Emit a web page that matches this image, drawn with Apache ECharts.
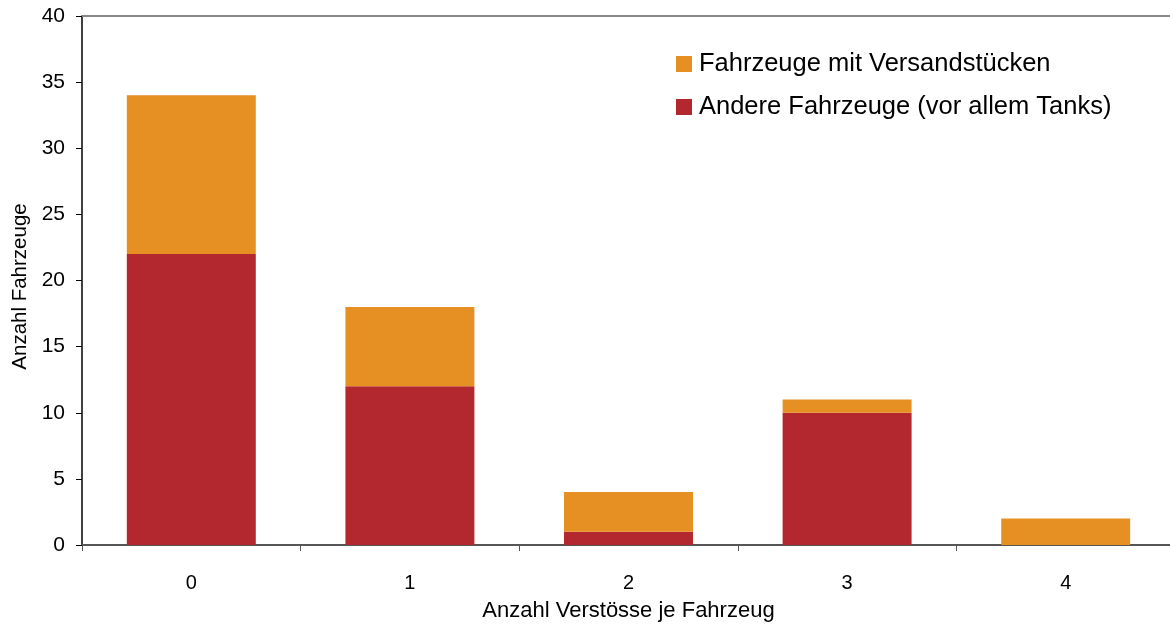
<!DOCTYPE html>
<html>
<head>
<meta charset="utf-8">
<script src="https://cdn.jsdelivr.net/npm/echarts@6/dist/echarts.min.js"></script>
<style>
  html, body { margin: 0; padding: 0; background: #fff; }
  #chart { width: 1170px; height: 625px; }
</style>
</head>
<body>
<div id="chart"></div>
<script>
const categories = ['0', '1', '2', '3', '4']
const andereFahrzeuge = [22, 12, 1, 10, 0]
const versandstuecke = [12, 6, 3, 1, 2]
const yTicks = { min: 0, max: 40, interval: 5 }

const font = '"Liberation Sans", Arial, sans-serif'
const myChart = echarts.init(document.getElementById('chart'))
myChart.setOption({
  animation: false,
  color: ['#b3282f', '#e68f23'],
  textStyle: { fontFamily: font },
  grid: { left: 82, right: -5, top: 16, bottom: 80, containLabel: false, outerBoundsMode: 'none' },
  legend: {
    orient: 'vertical',
    left: 671,
    top: 46,
    itemWidth: 16,
    itemHeight: 16,
    itemGap: 17,
    icon: 'rect',
    textStyle: { fontSize: 25.5, color: '#000', fontFamily: font, padding: [0, 0, 0, 2] },
    data: ['Fahrzeuge mit Versandstücken', 'Andere Fahrzeuge (vor allem Tanks)']
  },
  xAxis: [
    {
      type: 'category',
      data: categories,
      name: 'Anzahl Verstösse je Fahrzeug',
      nameLocation: 'middle',
      nameGap: 55,
      nameTextStyle: { fontSize: 22, color: '#000' },
      axisLine: { lineStyle: { color: '#555', width: 2 } },
      axisTick: { show: true, length: 6, lineStyle: { color: '#555' } },
      axisLabel: { fontSize: 20, color: '#000', margin: 28 }
    },
    {
      type: 'category',
      data: categories,
      position: 'top',
      axisLine: { lineStyle: { color: '#888', width: 2 } },
      axisTick: { show: false },
      axisLabel: { show: false }
    }
  ],
  yAxis: {
    type: 'value',
    min: yTicks.min,
    max: yTicks.max,
    interval: yTicks.interval,
    name: 'Anzahl Fahrzeuge',
    nameLocation: 'middle',
    nameGap: 49,
    nameTextStyle: { fontSize: 20.5, color: '#000', padding: [0, 12, 0, 0] },
    axisLine: { show: true, lineStyle: { color: '#000', width: 1.5 } },
    axisTick: { show: true, length: 6, lineStyle: { color: '#000' } },
    axisLabel: { fontSize: 21, color: '#000', margin: 17 },
    splitLine: { show: false }
  },
  series: [
    {
      name: 'Andere Fahrzeuge (vor allem Tanks)',
      type: 'bar',
      stack: 'total',
      barWidth: '59%',
      itemStyle: { color: '#b3282f' },
      data: andereFahrzeuge
    },
    {
      name: 'Fahrzeuge mit Versandstücken',
      type: 'bar',
      stack: 'total',
      barWidth: '59%',
      itemStyle: { color: '#e68f23' },
      data: versandstuecke
    }
  ]
})
</script>
</body>
</html>
